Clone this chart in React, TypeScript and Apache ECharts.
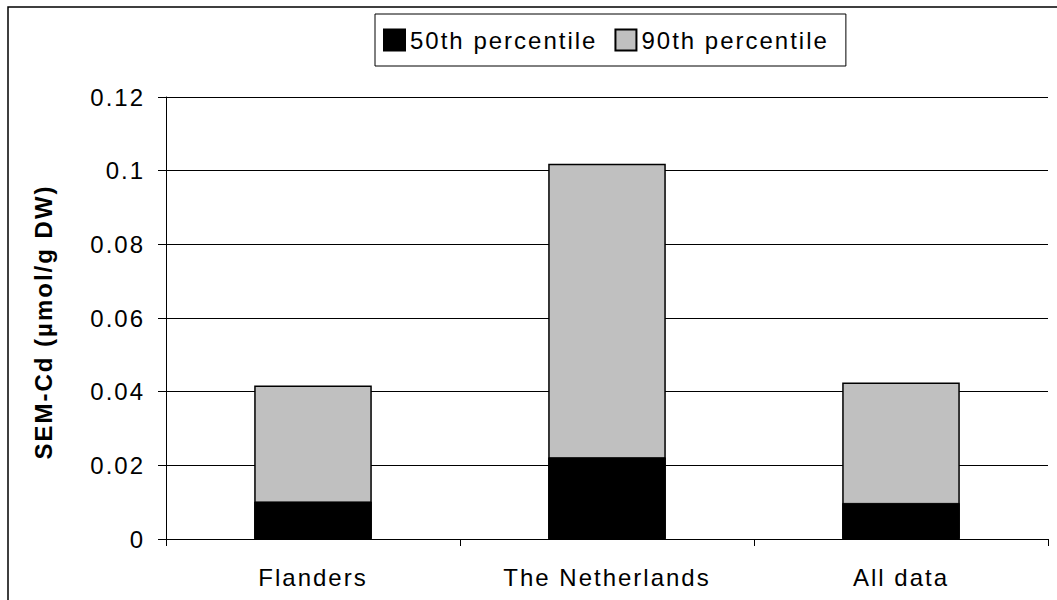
import React, { useEffect, useRef } from "react";
import * as echarts from "echarts";

const categories = ["Flanders", "The Netherlands", "All data"];
const p50Values = [0.0102, 0.0222, 0.0098];
const p90Values = [0.0417, 0.1019, 0.0425];
const seriesNames = ["50th percentile", "90th percentile"];
const yTitle = "SEM-Cd (µmol/g DW)";

const FONT = "'Liberation Sans', Arial, sans-serif";

export default function App() {
  const ref = useRef<HTMLDivElement>(null);
  useEffect(() => {
    if (!ref.current) return;
    const chart = echarts.init(ref.current, undefined, { renderer: "svg" });
    chart.setOption({
      animation: false,
      backgroundColor: "#ffffff",
      textStyle: { fontFamily: FONT, color: "#000" },
      grid: { left: 166, right: 9, top: 97, bottom: 61, containLabel: false },
      legend: {
        data: seriesNames,
        left: 375,
        top: 14,
        orient: "horizontal",
        borderColor: "#000",
        borderWidth: 1,
        padding: [14, 47, 14, 8],
        itemWidth: 21,
        itemHeight: 21,
        itemGap: 47,
        icon: "rect",
        textStyle: { fontSize: 24, fontFamily: FONT, color: "#000" },
      },
      xAxis: {
        type: "category",
        data: categories,
        axisLine: { lineStyle: { color: "#000", width: 1 } },
        axisTick: { show: true, length: 7, lineStyle: { color: "#000" } },
        axisLabel: { fontSize: 24, fontFamily: FONT, color: "#000", margin: 26 },
      },
      yAxis: {
        type: "value",
        min: 0,
        max: 0.12,
        interval: 0.02,
        axisLine: { show: true, lineStyle: { color: "#000", width: 1 } },
        axisTick: { show: true, length: 8, lineStyle: { color: "#000" } },
        splitLine: { show: true, lineStyle: { color: "#000", width: 1 } },
        axisLabel: {
          fontSize: 24,
          fontFamily: FONT,
          color: "#000",
          margin: 21,
          formatter: (v: number) => String(parseFloat(v.toFixed(4))),
        },
      },
      series: [
        {
          name: seriesNames[1],
          type: "bar",
          data: p90Values,
          barWidth: "40%",
          barGap: "-100%",
          itemStyle: { color: "#C0C0C0", borderColor: "#000", borderWidth: 1.5 },
          z: 2,
        },
        {
          name: seriesNames[0],
          type: "bar",
          data: p50Values,
          barWidth: "40%",
          barGap: "-100%",
          itemStyle: { color: "#000000", borderColor: "#000", borderWidth: 1 },
          z: 3,
        },
      ],
      graphic: [
        {
          type: "rect",
          shape: { x: 8, y: 7, width: 1200, height: 800 },
          style: { fill: "none", stroke: "#000", lineWidth: 1.5 },
          silent: true,
        },
        {
          type: "text",
          x: 43,
          y: 322,
          rotation: Math.PI / 2,
          style: {
            text: yTitle,
            fontSize: 24,
            fontWeight: "bold",
            fontFamily: FONT,
            fill: "#000",
            align: "center",
            verticalAlign: "middle",
          },
        },
      ],
    });
    return () => chart.dispose();
  }, []);
  return (
    <div
      ref={ref}
      style={{
        position: "absolute",
        left: 0,
        top: 0,
        width: 1057,
        height: 600,
        letterSpacing: "2px",
      }}
    />
  );
}
